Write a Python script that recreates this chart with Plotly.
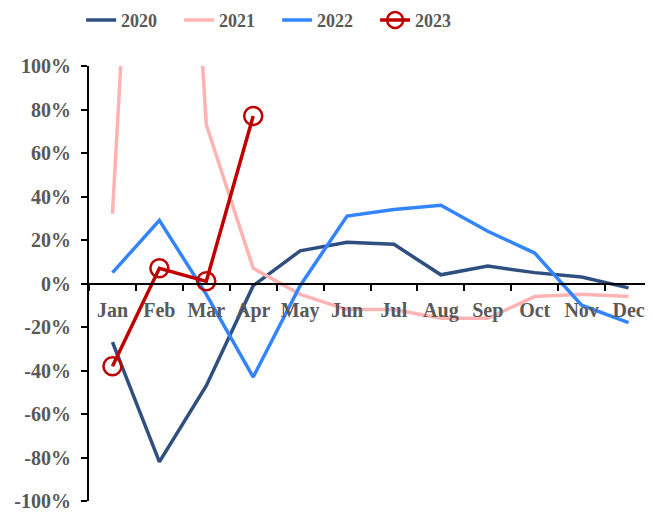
import plotly.graph_objects as go

months = ["Jan", "Feb", "Mar", "Apr", "May", "Jun", "Jul", "Aug", "Sep", "Oct", "Nov", "Dec"]
y2020 = [-27, -82, -47, -1, 15, 19, 18, 4, 8, 5, 3, -2]
y2021 = [32, 420, 73, 7, -5, -12, -12, -16, -16, -6, -5, -6]
y2022 = [5, 29, -5, -43, -1, 31, 34, 36, 24, 14, -10, -18]
y2023 = [-38, 7, 1, 77]

font_family = "Liberation Serif, Times New Roman, serif"
gray = "#595959"

fig = go.Figure()
fig.add_trace(go.Scatter(x=months, y=y2020, name="2020", mode="lines",
                         line=dict(color="#2F4F7F", width=3.5)))
fig.add_trace(go.Scatter(x=months, y=y2021, name="2021", mode="lines",
                         line=dict(color="#FFB3B3", width=3.5)))
fig.add_trace(go.Scatter(x=months, y=y2022, name="2022", mode="lines",
                         line=dict(color="#3385FF", width=3.5)))
fig.add_trace(go.Scatter(x=months[:len(y2023)], y=y2023, name="2023", mode="lines+markers",
                         line=dict(color="#C00000", width=3.5),
                         marker=dict(symbol="circle-open", size=18, color="#C00000",
                                     line=dict(width=2.5, color="#C00000"))))

# page body has an 8px default margin; figure is sized to fill the rest of the window
fig.update_layout(
    width=645, height=505,
    margin=dict(l=81, r=1, t=58, b=12, autoexpand=False),
    paper_bgcolor="white", plot_bgcolor="white",
    font=dict(family=font_family, color=gray, size=20),
    showlegend=True,
    legend=dict(orientation="h", x=-0.014, xanchor="left", y=1.105, yanchor="middle",
                font=dict(size=18, family=font_family, color=gray, weight="bold"),
                entrywidth=53, entrywidthmode="pixels", bgcolor="rgba(0,0,0,0)"),
    xaxis=dict(type="category", categoryorder="array", categoryarray=months,
               range=[-0.5, 11.5], anchor="free", position=0.5,
               showline=True, linecolor="black", linewidth=2, tickangle=0,
               ticks="outside", tickson="boundaries", ticklen=6, tickwidth=2, tickcolor="black",
               ticklabelstandoff=8, ticklabeloverflow="allow",
               showgrid=False, zeroline=False,
               tickfont=dict(size=20, family=font_family, color=gray, weight="bold")),
    yaxis=dict(range=[-100, 100], tickvals=list(range(-100, 101, 20)),
               ticktext=[f"{v}%" for v in range(-100, 101, 20)],
               showline=True, linecolor="black", linewidth=2,
               ticks="outside", ticklen=6, tickwidth=2, tickcolor="black",
               ticklabelstandoff=6, ticklabeloverflow="allow",
               showgrid=False, zeroline=False,
               tickfont=dict(size=20, family=font_family, color=gray, weight="bold")),
)

fig.write_html("out.html")
